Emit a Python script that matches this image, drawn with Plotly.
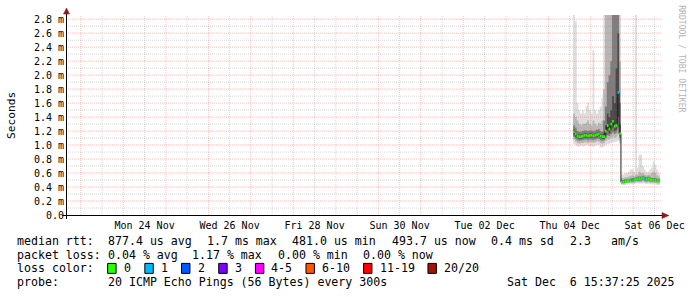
import plotly.graph_objects as go
import pandas as pd

W, H = 697, 297
PL, PR, PT, PB = 66, 666, 15, 215   # plot area in pixels
MONO = "DejaVu Sans Mono"

t_start = "2025-11-22 15:37:25"
t_end = "2025-12-06 15:37:25"

# ---- data (hourly bins, values in ms) ----
bin_start = pd.date_range("2025-12-04 14:00", periods=49, freq="h")
median_ms = [1.19, 1.16, 1.13, 1.12, 1.12, 1.13, 1.14, 1.14, 1.13, 1.14,
             1.14, 1.13, 1.14, 1.15, 1.16, 1.13, 1.12, 1.12, 1.20, 1.28,
             1.23, 1.30, 1.34, 1.27, 1.28, 1.75, 1.16, 0.47, 0.47, 0.48,
             0.48, 0.49, 0.49, 0.50, 0.50, 0.51, 0.52, 0.52, 0.52, 0.53,
             0.52, 0.51, 0.52, 0.51, 0.50, 0.50, 0.50, 0.49, 0.49]
loss_count = [0] * 25 + [1] + [0] * 7 + [1] + [0] * 6 + [1] + [0] * 8
# smoke bands: ping rank pairs (1,20), (3,18), (6,15), (9,12)
ping01 = [1.02, 1.00, 0.98, 0.98, 0.99, 0.98, 0.99, 1.00, 0.99, 0.98,
          0.99, 0.97, 0.99, 1.00, 1.00, 0.97, 0.96, 0.98, 1.00, 1.02,
          1.02, 1.03, 1.04, 1.04, 1.05, 1.06, 1.02, 0.43, 0.43, 0.43,
          0.44, 0.44, 0.44, 0.44, 0.44, 0.45, 0.45, 0.45, 0.45, 0.45,
          0.45, 0.44, 0.45, 0.44, 0.44, 0.44, 0.44, 0.43, 0.43]
ping20 = [2.90, 2.77, 1.60, 1.50, 1.45, 1.50, 1.45, 1.55, 1.60, 1.50,
          1.45, 2.36, 1.50, 1.45, 1.50, 1.55, 1.68, 2.90, 2.90, 2.90,
          2.90, 2.90, 2.90, 2.90, 2.90, 2.90, 2.90, 0.58, 0.58, 0.60,
          0.60, 0.62, 0.65, 0.65, 0.62, 2.90, 0.68, 0.86, 0.86, 0.70,
          0.65, 0.62, 0.62, 0.65, 0.68, 0.77, 0.72, 0.65, 0.60]
ping03 = [1.08, 1.05, 1.03, 1.02, 1.03, 1.03, 1.04, 1.04, 1.03, 1.04,
          1.04, 1.03, 1.04, 1.05, 1.05, 1.03, 1.02, 1.03, 1.06, 1.08,
          1.08, 1.10, 1.12, 1.10, 1.12, 1.15, 1.06, 0.45, 0.45, 0.45,
          0.46, 0.46, 0.46, 0.46, 0.46, 0.47, 0.47, 0.47, 0.47, 0.48,
          0.47, 0.46, 0.47, 0.46, 0.46, 0.46, 0.46, 0.45, 0.45]
ping18 = [1.45, 1.40, 1.35, 1.30, 1.28, 1.30, 1.30, 1.32, 1.35, 1.30,
          1.28, 1.35, 1.30, 1.28, 1.32, 1.30, 1.35, 1.80, 2.90, 2.90,
          2.90, 2.90, 2.90, 2.90, 2.90, 2.90, 2.20, 0.53, 0.53, 0.54,
          0.54, 0.55, 0.56, 0.57, 0.56, 0.58, 0.58, 0.62, 0.60, 0.60,
          0.58, 0.57, 0.58, 0.58, 0.60, 0.62, 0.60, 0.57, 0.55]
ping06 = [1.12, 1.09, 1.07, 1.06, 1.07, 1.07, 1.08, 1.08, 1.07, 1.08,
          1.08, 1.07, 1.08, 1.09, 1.09, 1.07, 1.06, 1.07, 1.10, 1.14,
          1.13, 1.16, 1.18, 1.16, 1.18, 1.25, 1.10, 0.46, 0.46, 0.465,
          0.47, 0.47, 0.48, 0.48, 0.48, 0.49, 0.49, 0.49, 0.49, 0.50,
          0.49, 0.48, 0.49, 0.48, 0.48, 0.48, 0.48, 0.47, 0.47]
ping15 = [1.28, 1.25, 1.20, 1.19, 1.19, 1.20, 1.21, 1.21, 1.20, 1.21,
          1.21, 1.20, 1.21, 1.22, 1.23, 1.20, 1.19, 1.35, 1.55, 1.90,
          2.00, 2.20, 2.90, 2.90, 2.90, 2.90, 1.60, 0.50, 0.50, 0.51,
          0.51, 0.52, 0.52, 0.53, 0.53, 0.54, 0.55, 0.55, 0.55, 0.56,
          0.55, 0.54, 0.55, 0.54, 0.53, 0.53, 0.53, 0.52, 0.52]
ping09 = [1.15, 1.12, 1.10, 1.09, 1.09, 1.10, 1.11, 1.11, 1.10, 1.11,
          1.11, 1.10, 1.11, 1.12, 1.13, 1.10, 1.09, 1.09, 1.14, 1.20,
          1.17, 1.21, 1.25, 1.20, 1.22, 1.40, 1.13, 0.465, 0.465, 0.47,
          0.475, 0.48, 0.485, 0.49, 0.49, 0.50, 0.51, 0.51, 0.51, 0.52,
          0.51, 0.50, 0.51, 0.50, 0.49, 0.49, 0.49, 0.48, 0.48]
ping12 = [1.22, 1.19, 1.16, 1.15, 1.15, 1.16, 1.17, 1.17, 1.16, 1.17,
          1.17, 1.16, 1.17, 1.18, 1.19, 1.16, 1.15, 1.18, 1.28, 1.45,
          1.40, 1.50, 1.70, 1.60, 2.10, 2.60, 1.30, 0.49, 0.49, 0.50,
          0.50, 0.505, 0.51, 0.52, 0.52, 0.53, 0.54, 0.54, 0.54, 0.55,
          0.54, 0.53, 0.54, 0.53, 0.52, 0.52, 0.52, 0.51, 0.51]

smoke_layers = [(ping01, ping20, "#dddddd"), (ping03, ping18, "#b7b7b7"),
                (ping06, ping15, "#7e7e7e"), (ping09, ping12, "#4a4a4a")]

y_ticks = [0.0, 0.2, 0.4, 0.6, 0.8, 1.0, 1.2, 1.4, 1.6, 1.8, 2.0, 2.2, 2.4, 2.6, 2.8]
y_ticktext = ["0.0"] + [f"{v:.1f} m" for v in y_ticks[1:]]
x_ticks = ["2025-11-24 12:00", "2025-11-26 12:00", "2025-11-28 12:00", "2025-11-30 12:00",
           "2025-12-02 12:00", "2025-12-04 12:00", "2025-12-06 12:00"]
x_ticktext = ["Mon 24 Nov", "Wed 26 Nov", "Fri 28 Nov", "Sun 30 Nov",
              "Tue 02 Dec", "Thu 04 Dec", "Sat 06 Dec"]

loss_labels = ["0", "1", "2", "3", "4-5", "6-10", "11-19", "20/20"]
loss_colors = ["#26ff00", "#00b8ff", "#0059ff", "#7e00ff", "#ff00ff", "#ff5500", "#ff0000", "#a01400"]
loss_upper = [0, 1, 2, 3, 5, 10, 19, 20]

rtt_stats = ["877.4 us avg", "1.7 ms max", "481.0 us min", "493.7 us now", "0.4 ms sd", "2.3", "am/s"]
loss_stats = ["0.04 % avg", "1.17 % max", "0.00 % min", "0.00 % now"]
probe_text = "20 ICMP Echo Pings (56 Bytes) every 300s"
stamp_text = "Sat Dec  6 15:37:25 2025"

# ---- helpers: pixel -> paper (paper is relative to the plot area) ----
def px(x):
    return (x - PL) / (PR - PL)

def py(y):
    return (PB - y) / (PB - PT)

def nb(s):
    return s.replace(" ", "\u00a0")

step = pd.Timedelta(hours=1)
x_edges = list(bin_start) + [bin_start[-1] + step]

def edge_vals(v):
    return list(v) + [v[-1]]

fig = go.Figure()

for lo, hi, col in smoke_layers:
    fig.add_trace(go.Scatter(x=x_edges, y=edge_vals(lo), mode="lines",
                             line=dict(width=0, shape="hv"), hoverinfo="skip", showlegend=False))
    fig.add_trace(go.Scatter(x=x_edges, y=edge_vals(hi), mode="lines", fill="tonexty",
                             fillcolor=col, line=dict(width=0, shape="hv"),
                             hoverinfo="skip", showlegend=False))

fig.add_trace(go.Scatter(x=x_edges, y=edge_vals(median_ms), mode="lines",
                         line=dict(width=1, color="#202020", shape="hv"),
                         hoverinfo="skip", showlegend=False))

def loss_idx(n):
    for i, u in enumerate(loss_upper):
        if n <= u:
            return i
    return len(loss_upper) - 1

for ci, col in enumerate(loss_colors):
    xs, ys = [], []
    for t, m, n in zip(bin_start, median_ms, loss_count):
        if loss_idx(n) == ci:
            xs += [t, t + step, None]
            ys += [m, m, None]
    if xs:
        fig.add_trace(go.Scatter(x=xs, y=ys, mode="lines",
                                 line=dict(width=2.8, color=col),
                                 hoverinfo="skip", showlegend=False))

shapes = []
# grid (drawn above data like rrdtool)
MAJ = "rgba(255,50,50,0.30)"
MIN = "rgba(120,120,120,0.30)"
for v in y_ticks[1:]:
    shapes.append(dict(type="line", xref="x domain", yref="y", x0=0, x1=1, y0=v, y1=v,
                       line=dict(color=MAJ, width=1, dash="1px,1px"), layer="above"))
for v in [0.1, 0.3, 0.5, 0.7, 0.9, 1.1, 1.3, 1.5, 1.7, 1.9, 2.1, 2.3, 2.5, 2.7]:
    shapes.append(dict(type="line", xref="x domain", yref="y", x0=0, x1=1, y0=v, y1=v,
                       line=dict(color=MIN, width=1, dash="1px,1px"), layer="above"))
for d in pd.date_range("2025-11-23 00:00", "2025-12-06 00:00", freq="D"):
    shapes.append(dict(type="line", xref="x", yref="y domain", x0=d, x1=d, y0=0, y1=1,
                       line=dict(color=MAJ, width=1, dash="1px,1px"), layer="above"))
    dn = d + pd.Timedelta(hours=12)
    shapes.append(dict(type="line", xref="x", yref="y domain", x0=dn, x1=dn, y0=0, y1=1,
                       line=dict(color=MIN, width=1, dash="1px,1px"), layer="above"))

# axes lines and arrows
AX = 66.5
AY = 215.5
shapes.append(dict(type="line", xref="paper", yref="paper", x0=px(62), x1=px(669), y0=py(AY), y1=py(AY),
                   line=dict(color="#000000", width=1), layer="above"))
shapes.append(dict(type="line", xref="paper", yref="paper", x0=px(AX), x1=px(AX), y0=py(219), y1=py(11),
                   line=dict(color="#000000", width=1), layer="above"))
ARROW = "#8b1a1a"
shapes.append(dict(type="path", xref="paper", yref="paper",
                   path=f"M {px(AX-3)},{py(14)} L {px(AX)},{py(8)} L {px(AX+3)},{py(14)} Z",
                   fillcolor=ARROW, line=dict(color=ARROW, width=0.5), layer="above"))
shapes.append(dict(type="path", xref="paper", yref="paper",
                   path=f"M {px(667)},{py(AY-3)} L {px(674)},{py(AY)} L {px(667)},{py(AY+3)} Z",
                   fillcolor=ARROW, line=dict(color=ARROW, width=0.5), layer="above"))

annotations = []
LF = 11.6

def txt(s, x, y, anchor="left", size=LF, color="#000000", angle=0):
    annotations.append(dict(text=nb(s), x=px(x), y=py(y), xref="paper", yref="paper",
                            xanchor=anchor, yanchor="middle", showarrow=False, borderpad=0,
                            textangle=angle, font=dict(family=MONO, size=size, color=color)))

ROW = [241, 254.7, 268.4, 282.1]
txt("median rtt:", 16, ROW[0])
for s, x in zip(rtt_stats, [107.2, 207.3, 293.2, 393.4, 493.5, 573.5, 614.5]):
    txt(s, x, ROW[0])
txt("packet loss:", 16, ROW[1])
for s, x in zip(loss_stats, [107.2, 191.8, 279.0, 364.5]):
    txt(s, x, ROW[1])
txt("loss color:", 16, ROW[2])
box_x = [108, 145.5, 182.5, 220, 257, 308, 366, 431]
for lab, col, bx in zip(loss_labels, loss_colors, box_x):
    shapes.append(dict(type="rect", xref="paper", yref="paper",
                       x0=px(bx), x1=px(bx + 8.5), y0=py(ROW[2] - 5), y1=py(ROW[2] + 5),
                       fillcolor=col, line=dict(color="#000000", width=1), layer="above"))
    txt(lab, bx + 15.2, ROW[2])
txt("probe:", 16, ROW[3])
txt(probe_text, 107.2, ROW[3])
txt(stamp_text, 681.5, ROW[3], anchor="right")

txt("Seconds", 10.5, 115, anchor="center", size=11.2, angle=-90)
txt("RRDTOOL / TOBI OETIKER", 687, 59, anchor="center", size=8.1, color="#b4b4b4", angle=90)

fig.update_layout(
    width=W, height=H, margin=dict(l=PL, r=W - PR, t=PT, b=H - PB),
    paper_bgcolor="#ffffff", plot_bgcolor="#ffffff",
    shapes=shapes, annotations=annotations, showlegend=False,
    xaxis=dict(type="date", range=[t_start, t_end], showgrid=False, zeroline=False, showline=False,
               tickmode="array", tickvals=x_ticks, ticktext=x_ticktext, ticks="",
               tickfont=dict(family=MONO, size=10, color="#000000"), ticklabelstandoff=3),
    yaxis=dict(range=[0, 2.86], showgrid=False, zeroline=False, showline=False,
               tickmode="array", tickvals=y_ticks, ticktext=y_ticktext, ticks="",
               tickfont=dict(family=MONO, size=10, color="#000000"), ticklabelstandoff=1),
)

fig.write_html("out.html")
